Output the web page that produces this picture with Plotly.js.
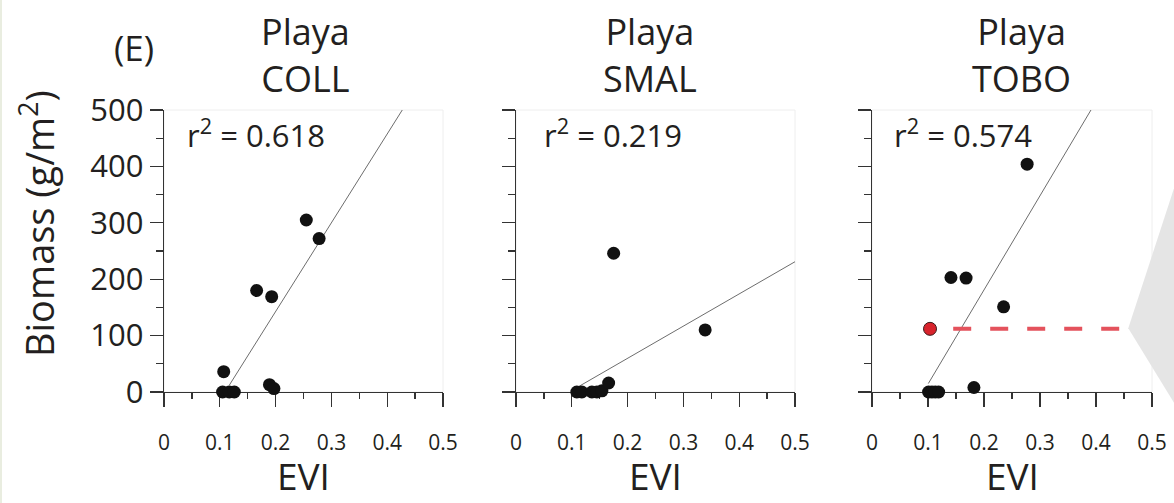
<!DOCTYPE html>
<html>
<head>
<meta charset="utf-8">
<script src="https://cdn.plot.ly/plotly-3.0.1.min.js"></script>
<style>html,body{margin:0;padding:0;background:#fff;}#chart{width:1174px;height:503px;}</style>
</head>
<body>
<div id="chart"></div>
<script>
// ---- data ----
const sites = ["COLL", "SMAL", "TOBO"];
const r2Labels = ["0.618", "0.219", "0.574"];
const xTitle = "EVI";
const yTitle = "Biomass (g/m<sup>2</sup>)";

const collEVI = [0.105, 0.117, 0.126, 0.107, 0.166, 0.193, 0.189, 0.197, 0.255, 0.278];
const collBiomass = [0, 0, 0, 36, 180, 169, 13, 6, 305, 272];
const collFitEVI = [0.117, 0.427];
const collFitBiomass = [12, 500];

const smalEVI = [0.109, 0.118, 0.136, 0.145, 0.154, 0.166, 0.175, 0.339];
const smalBiomass = [0, 0, 0, 0, 2, 16, 246, 110];
const smalFitEVI = [0.112, 0.5];
const smalFitBiomass = [9.5, 231];

const toboEVI = [0.101, 0.107, 0.113, 0.119, 0.182, 0.141, 0.168, 0.235, 0.277];
const toboBiomass = [0, 0, 0, 0, 8, 203, 202, 151, 404];
const toboFitEVI = [0.1006, 0.391];
const toboFitBiomass = [15, 500];

const highlightEVI = [0.1036];
const highlightBiomass = [112];
const guideEVI = [0.145, 0.45];
const guideBiomass = [112, 112];

const xTickVals = [0, 0.1, 0.2, 0.3, 0.4, 0.5];
const xTickText = ["0", "0.1", "0.2", "0.3", "0.4", "0.5"];
const yTickVals = [0, 100, 200, 300, 400, 500];
const yTickText = ["0", "100", "200", "300", "400", "500"];

// ---- styling ----
const FONT = "Open Sans, Noto Sans, DejaVu Sans, sans-serif";
const INK = "#231f20";
const dot = {size: 13, color: "#111111"};

function pts(x, y, xa, ya) {
  return {x: x, y: y, xaxis: xa, yaxis: ya, type: "scatter", mode: "markers",
          marker: dot, cliponaxis: false, showlegend: false, hoverinfo: "x+y"};
}
function fit(x, y, xa, ya) {
  return {x: x, y: y, xaxis: xa, yaxis: ya, type: "scatter", mode: "lines",
          line: {color: "#6d6d6d", width: 1}, cliponaxis: false, showlegend: false, hoverinfo: "skip"};
}

const traces = [
  fit(collFitEVI, collFitBiomass, "x", "y"),
  pts(collEVI, collBiomass, "x", "y"),
  fit(smalFitEVI, smalFitBiomass, "x2", "y2"),
  pts(smalEVI, smalBiomass, "x2", "y2"),
  fit(toboFitEVI, toboFitBiomass, "x3", "y3"),
  {x: guideEVI, y: guideBiomass, xaxis: "x3", yaxis: "y3", type: "scatter", mode: "lines",
   line: {color: "#e4525c", width: 4, dash: "18px,19px"}, cliponaxis: false, showlegend: false, hoverinfo: "skip"},
  pts(toboEVI, toboBiomass, "x3", "y3"),
  {x: highlightEVI, y: highlightBiomass, xaxis: "x3", yaxis: "y3", type: "scatter", mode: "markers",
   marker: {size: 13, color: "#d8232c", line: {color: "#3a1a1a", width: 1}}, cliponaxis: false, showlegend: false}
];

function xAxis(domain, anchor) {
  return {
    domain: domain, anchor: anchor, range: [0, 0.5], fixedrange: true,
    showgrid: false, zeroline: false, showline: true, linecolor: "#333", linewidth: 1.3,
    ticks: "outside", ticklen: 14, tickwidth: 1.3, tickcolor: "#333",
    tickvals: xTickVals, ticktext: xTickText, ticklabelstandoff: 17,
    tickfont: {family: FONT, size: 21, color: INK},
    minor: {ticks: "outside", ticklen: 6, tickwidth: 1.3, tickcolor: "#333", dtick: 0.05, showgrid: false},
    layer: "below traces"
  };
}
function yAxis(anchor, labels) {
  return {
    domain: [0, 1], anchor: anchor, range: [0, 500], fixedrange: true,
    showgrid: false, zeroline: false, showline: true, linecolor: "#333", linewidth: 1.3,
    ticks: "outside", ticklen: 13, tickwidth: 1.3, tickcolor: "#333",
    tickvals: yTickVals, ticktext: yTickText, showticklabels: labels,
    tickfont: {family: FONT, size: 31, color: INK},
    minor: {ticks: "outside", ticklen: 7, tickwidth: 1.3, tickcolor: "#333", dtick: 50, showgrid: false},
    layer: "below traces"
  };
}

const W = 988;
const dom1 = [0, 279 / W], dom2 = [352 / W, 631 / W], dom3 = [708 / W, 1];

function titleAnn(cx, site) {
  return {xref: "paper", yref: "paper", x: cx, y: 1.195, xanchor: "center", yanchor: "middle",
          text: "Playa<br>" + site, showarrow: false, align: "center",
          font: {family: FONT, size: 36, color: INK}};
}
function r2Ann(lx, val) {
  return {xref: "paper", yref: "paper", x: lx, y: 0.918, xanchor: "left", yanchor: "middle",
          text: "r<sup>2</sup> = " + val, showarrow: false,
          font: {family: FONT, size: 31, color: INK}};
}
function evi(xr) {
  return {xref: xr + " domain", yref: "paper", x: 0.5, y: -0.392, xanchor: "center", yanchor: "bottom",
          text: xTitle, showarrow: false, font: {family: FONT, size: 37, color: INK}};
}
function frame(xr, yr) {
  return {type: "rect", xref: xr + " domain", yref: yr + " domain", x0: 0, x1: 1, y0: 0, y1: 1,
          line: {color: "#eeeeee", width: 1}, layer: "below"};
}

const layout = {
  width: 1174, height: 503,
  margin: {l: 164, r: 22, t: 110, b: 111, pad: 0},
  paper_bgcolor: "#ffffff", plot_bgcolor: "#ffffff",
  font: {family: FONT, color: INK},
  showlegend: false,
  xaxis: xAxis(dom1, "y"), yaxis: yAxis("x", true),
  xaxis2: xAxis(dom2, "y2"), yaxis2: yAxis("x2", false),
  xaxis3: xAxis(dom3, "y3"), yaxis3: yAxis("x3", false),
  annotations: [
    {xref: "paper", yref: "paper", x: -0.0304, y: 1.22, xanchor: "center", yanchor: "middle",
     text: "(E)", showarrow: false, font: {family: FONT, size: 35, color: INK}},
    {xref: "paper", yref: "paper", x: -0.1285, y: 0.5957, xanchor: "center", yanchor: "middle",
     textangle: -90, text: yTitle, showarrow: false,
     font: {family: FONT, size: 38, color: INK}},
    titleAnn(0.1437, sites[0]), titleAnn(0.4919, sites[1]), titleAnn(0.8684, sites[2]),
    r2Ann(0.0213, r2Labels[0]), r2Ann(0.3823, r2Labels[1]), r2Ann(0.7365, r2Labels[2]),
    evi("x"), evi("x2"), evi("x3")
  ],
  shapes: [
    frame("x", "y"), frame("x2", "y2"), frame("x3", "y3"),
    {type: "path", xref: "paper", yref: "paper", path: "M 1.03 0.805 L 0.976 0.226 L 1.03 -0.082 Z",
     fillcolor: "#e5e5e5", line: {width: 0}, layer: "below"},
    {type: "line", xref: "paper", yref: "paper", x0: -0.165, x1: -0.165, y0: -0.4, y1: 1.4,
     line: {color: "#e9ede0", width: 2}}
  ]
};

Plotly.newPlot("chart", traces, layout, {displayModeBar: false, staticPlot: true});
</script>
</body>
</html>
